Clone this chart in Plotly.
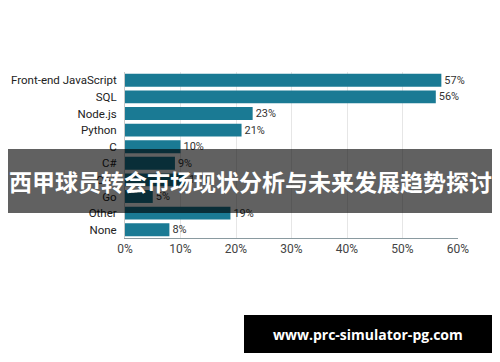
import plotly.graph_objects as go

categories = ["Front-end JavaScript", "SQL", "Node.js", "Python", "C", "C#", "C++", "Go", "Other", "None"]
values = [57, 56, 23, 21, 10, 9, 11, 5, 19, 8]
tick_vals = [0, 10, 20, 30, 40, 50, 60]
tick_text = ["0%", "10%", "20%", "30%", "40%", "50%", "60%"]
banner_text = "西甲球员转会市场现状分析与未来发展趋势探讨"
footer_text = "www.prc-simulator-pg.com"

W, H = 500, 362
L, R, T, B = 125, 42, 72, 124
pw, ph = W - L - R, H - T - B

def px(x):
    return (x - L) / pw

def py(y):
    return 1 - (y - T) / ph

fig = go.Figure(go.Bar(
    x=values, y=categories, orientation="h",
    marker=dict(color="#1a7a94", line=dict(width=0)),
    text=[f"{v}%" for v in values], textposition="outside",
    textfont=dict(family="Roboto", size=11, color="#333333"),
    cliponaxis=False, width=0.78,
))

fig.update_layout(
    width=W, height=H,
    margin=dict(l=L, r=R, t=T, b=B),
    paper_bgcolor="white", plot_bgcolor="white",
    showlegend=False,
    font=dict(family="Roboto", color="#333333"),
    xaxis=dict(range=[0, 60], tickvals=tick_vals, ticktext=tick_text,
               showgrid=True, gridcolor="#e6e6e6", gridwidth=1,
               zeroline=False, showline=True, linecolor="#8a9aa0", linewidth=1,
               ticks="", tickfont=dict(family="Roboto", size=12, color="#444444")),
    yaxis=dict(autorange="reversed", showgrid=False, zeroline=False,
               showline=True, linecolor="#c8c8c8", linewidth=1,
               ticks="", ticklabelstandoff=5,
               tickfont=dict(family="Roboto", size=11.5, color="#222222")),
    shapes=[
        dict(type="rect", xref="paper", yref="paper",
             x0=px(8), x1=px(492), y0=py(213), y1=py(149),
             fillcolor="rgba(0,0,0,0.62)", line=dict(width=0), layer="above"),
        dict(type="rect", xref="paper", yref="paper",
             x0=px(244), x1=px(492), y0=py(353), y1=py(315),
             fillcolor="#000000", line=dict(width=0), layer="above"),
    ],
    annotations=[
        dict(text="<b>" + banner_text + "</b>", xref="paper", yref="paper",
             x=px(250), y=py(181), showarrow=False,
             font=dict(family="Noto Sans CJK SC", size=23, color="white"),
             xanchor="center", yanchor="middle"),
        dict(text="<b>" + footer_text + "</b>", xref="paper", yref="paper",
             x=px(368), y=py(334), showarrow=False,
             font=dict(family="Open Sans", size=14, color="white"),
             xanchor="center", yanchor="middle"),
    ],
)

fig.write_html("out.html")
